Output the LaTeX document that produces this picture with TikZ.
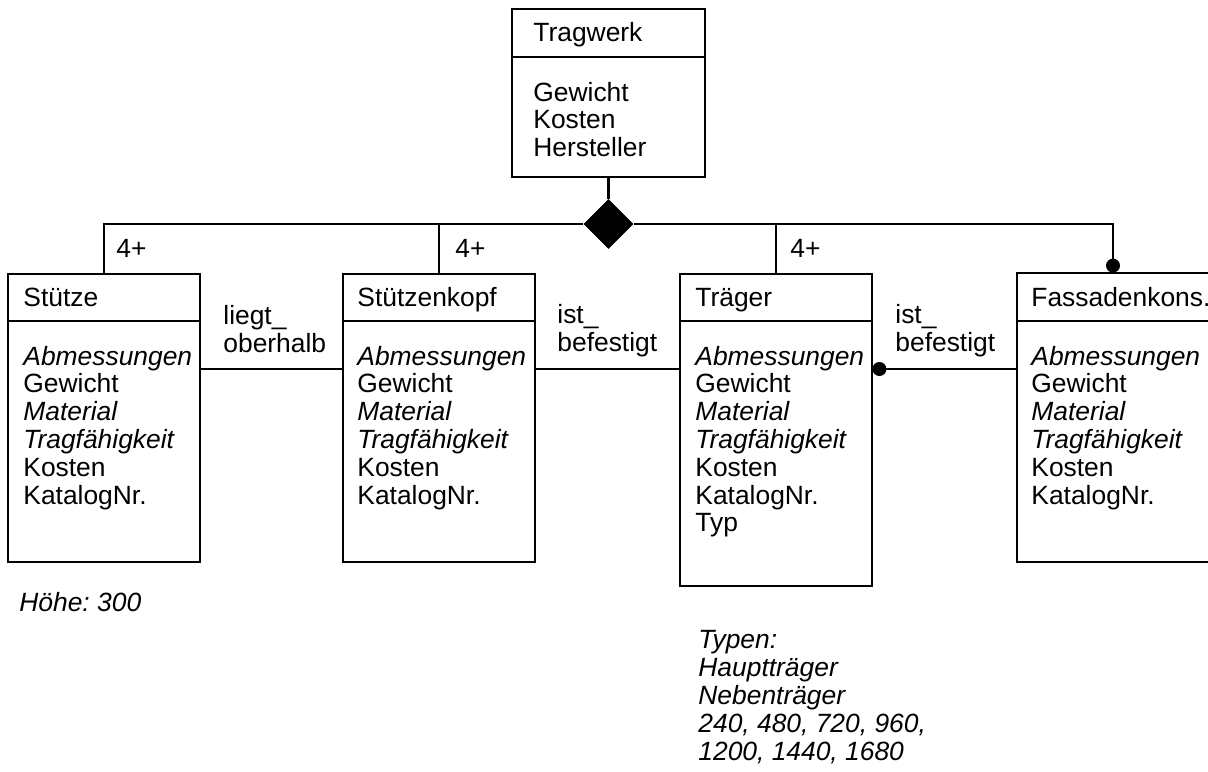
\documentclass[tikz,border=0pt]{standalone}
\usepackage{fontspec}
\setmainfont{Liberation Sans}
\frenchspacing
\usetikzlibrary{shapes.geometric,calc}

\tikzset{
  klasse/.style={draw, line width=1.3pt, anchor=north west, minimum width=96pt, inner sep=0pt, outer sep=0pt},
  titel/.style={anchor=base west, inner sep=0pt},
  attr/.style={anchor=base west, inner sep=0pt, align=left},
  punkt/.style={circle, fill, inner sep=0pt, minimum size=7pt},
  linie/.style={line width=1.3pt},
}

\begin{document}
\begin{tikzpicture}[x=0.5pt, y=-0.5pt, font=\fontsize{13.2pt}{13.9pt}\selectfont]
\useasboundingbox (0,0) rectangle (1208,771);

% Klassen
\node[klasse, minimum width=96.5pt, minimum height=84pt] (tragwerk) at (512,9) {};
\node[klasse, minimum height=144pt] (stuetze) at (8,274) {};
\node[klasse, minimum height=144pt] (kopf) at (343,274) {};
\node[klasse, minimum height=156pt] (traeger) at (680,274) {};
\node[klasse, minimum height=144.5pt] (fassade) at (1017,273) {};

\draw[linie] ($(tragwerk.north west)+(0,48)$) -- ($(tragwerk.north east)+(0,48)$);
\draw[linie] ($(stuetze.north west)+(0,47)$) -- ($(stuetze.north east)+(0,47)$);
\draw[linie] ($(kopf.north west)+(0,47)$) -- ($(kopf.north east)+(0,47)$);
\draw[linie] ($(traeger.north west)+(0,47)$) -- ($(traeger.north east)+(0,47)$);
\draw[linie] ($(fassade.north west)+(0,48)$) -- ($(fassade.north east)+(0,48)$);

% base of a multi-line node = baseline of its last line
\node[titel] (tragwerk-titel) at ($(tragwerk.north west)+(21,32)$) {Tragwerk};
\node[attr] (tragwerk-attr) at ($(tragwerk.north west)+(21,147.6)$) {Gewicht\\Kosten\\Hersteller};

\node[titel] (stuetze-titel) at ($(stuetze.north west)+(15,32)$) {Stütze};
\node[attr] (stuetze-attr) at ($(stuetze.north west)+(15,230)$)
  {\textit{Abmessungen}\\Gewicht\\\textit{Material}\\\textit{Tragfähigkeit}\\Kosten\\KatalogNr.};

\node[titel] (kopf-titel) at ($(kopf.north west)+(14,32)$) {Stützenkopf};
\node[attr] (kopf-attr) at ($(kopf.north west)+(14,230)$)
  {\textit{Abmessungen}\\Gewicht\\\textit{Material}\\\textit{Tragfähigkeit}\\Kosten\\KatalogNr.};

\node[titel] (traeger-titel) at ($(traeger.north west)+(15,32)$) {Träger};
\node[attr] (traeger-attr) at ($(traeger.north west)+(15,257.8)$)
  {\textit{Abmessungen}\\Gewicht\\\textit{Material}\\\textit{Tragfähigkeit}\\Kosten\\KatalogNr.\\Typ};

\node[titel] (fassade-titel) at ($(fassade.north west)+(14,33)$) {Fassadenkons.};
\node[attr] (fassade-attr) at ($(fassade.north west)+(14,231)$)
  {\textit{Abmessungen}\\Gewicht\\\textit{Material}\\\textit{Tragfähigkeit}\\Kosten\\KatalogNr.};

% Aggregation
\node[diamond, fill, inner sep=0pt, minimum width=25pt, minimum height=25pt] (raute) at (608.5,224) {};
\draw[linie] (tragwerk.south) -- (raute.north);
\draw[linie] (stuetze.north) |- (raute.west);
\draw[linie] (kopf.north) -- (kopf.north |- raute.west);
\draw[linie] (traeger.north) |- (raute.east);
\node[punkt, anchor=south] (punkt-fassade) at (fassade.north) {};
\draw[linie] (punkt-fassade.center) |- (raute.east);

\node[titel] (n-stuetze) at (116,257) {4+};
\node[titel] (n-kopf) at (455,257) {4+};
\node[titel] (n-traeger) at (790,257) {4+};

% Beziehungen
\coordinate (verb) at (0,369);
\draw[linie] (stuetze.east |- verb) -- (kopf.west |- verb);
\draw[linie] (kopf.east |- verb) -- (traeger.west |- verb);
\node[punkt, anchor=west] (punkt-traeger) at (traeger.east |- verb) {};
\draw[linie] (punkt-traeger.center) -- (fassade.west |- verb);

\node[attr] (liegt) at (223,352) {liegt\_\\oberhalb};
\node[attr] (befestigt1) at (557,351) {ist\_\\befestigt};
\node[attr] (befestigt2) at (895,351) {ist\_\\befestigt};

% Anmerkungen
\node[attr] (hoehe) at (19,611) {\textit{Höhe: 300}};
\node[attr] (typen) at (698,760)
  {\textit{Typen:}\\\textit{Hauptträger}\\\textit{Nebenträger}\\\textit{240, 480, 720, 960,}\\\textit{1200, 1440, 1680}};
\end{tikzpicture}
\end{document}
